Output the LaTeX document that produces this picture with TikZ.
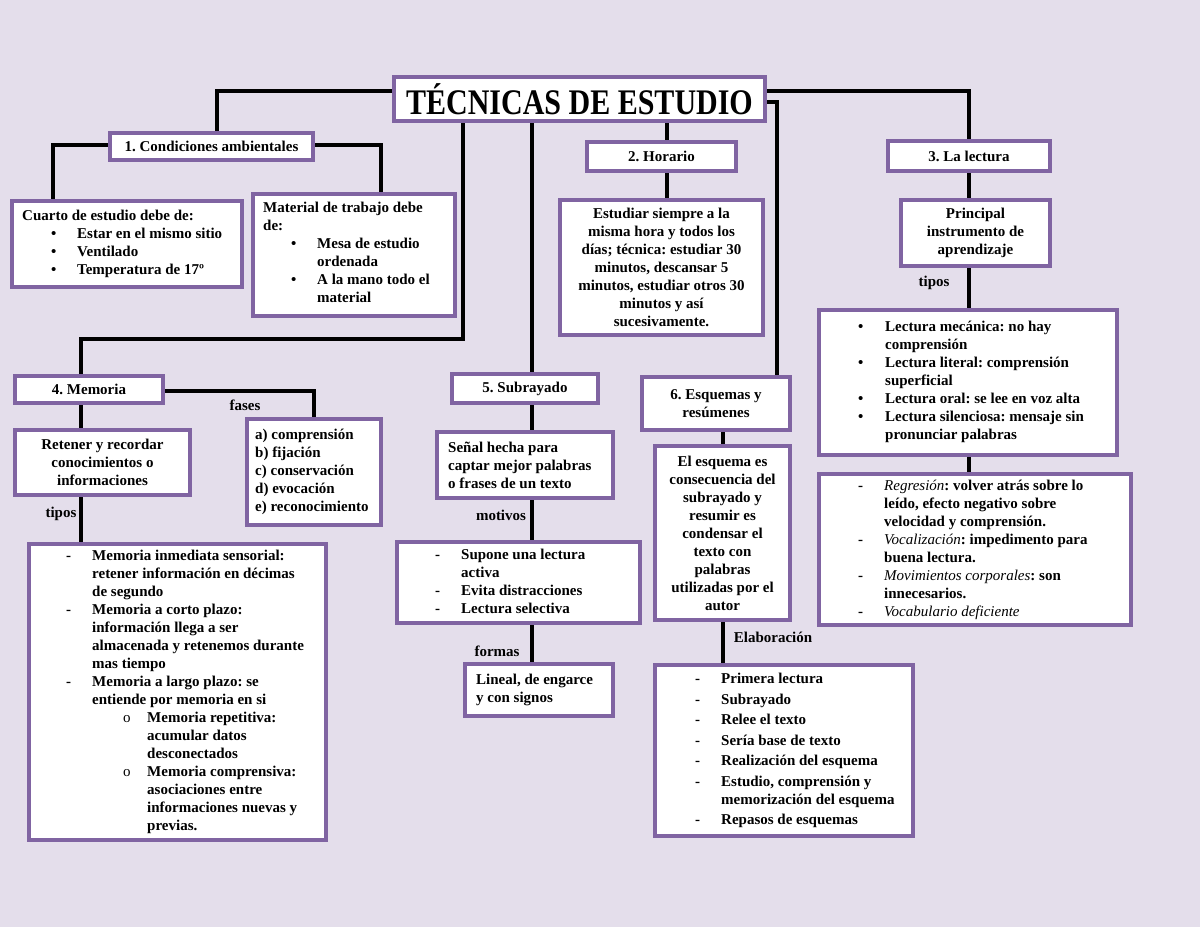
\documentclass[tikz,border=0pt]{standalone}
\usepackage{fontspec}
\setmainfont{Liberation Serif}
\frenchspacing
\definecolor{bgc}{HTML}{E4DEEB}
\definecolor{boxc}{HTML}{8064A2}
\newcommand\bodyfont{\bfseries\fontsize{15}{18}\selectfont\frenchspacing}
\newcommand\Bul[2]{\hspace*{#1pt}\makebox[#2pt][l]{•}}
\newcommand\Das[2]{\strut\hspace*{#1pt}\makebox[#2pt][l]{-}}
\newcommand\Cir[2]{\hspace*{#1pt}\makebox[#2pt][l]{\mdseries o}}
\newcommand\Ind[1]{\strut\hspace*{#1pt}}
\newcommand\It[1]{{\mdseries\itshape #1}}
\newcommand\mybox[6]{\node[box,minimum width={#4-#2-4},minimum height={#5-#3-4}] (#1) at ({(#2+#4)/2},{(#3+#5)/2}) {#6};}
\pgfdeclarelayer{back}
\pgfdeclarelayer{lines}
\pgfsetlayers{back,lines,main}
\begin{document}
\begin{tikzpicture}[x=1pt,y=-1pt,
  box/.style={draw=boxc,line width=4pt,fill=white,inner sep=0pt,align=center,font=\bodyfont},
  txt/.style={inner sep=0pt,align=left,anchor=west,font=\bodyfont},
  lbl/.style={inner sep=0pt,font=\bodyfont},
  conn/.style={draw=black,line width=4.5pt,line join=miter}]
\useasboundingbox (0,0) rectangle (1200,927);
\begin{pgfonlayer}{back}
\fill[bgc] (0,0) rectangle (1200,927);
\end{pgfonlayer}

% boxes
\node[box,font=\bfseries\fontsize{30}{36}\selectfont,minimum width={767-392-4},minimum height={122-74-4}] (title) at ({(392+767)/2},{(74+122)/2+1}) {\scalebox{1}[1.2]{TÉCNICAS DE ESTUDIO}};
\mybox{c1}{108}{131}{315}{162}{1. Condiciones ambientales}
\mybox{cuarto}{10}{199}{244}{289}{}
\mybox{material}{251}{192}{457}{318}{}
\mybox{horario}{585}{140}{738}{173}{2. Horario}
\mybox{horTxt}{558}{198}{765}{337}{Estudiar siempre a la\\misma hora y todos los\\días; técnica: estudiar 30\\minutos, descansar 5\\minutos, estudiar otros 30\\minutos y así\\sucesivamente.}
\mybox{lect}{886}{139}{1052}{173}{3. La lectura}
\mybox{princ}{899}{198}{1052}{268}{Principal\\instrumento de\\aprendizaje}
\mybox{ltipos}{817}{308}{1119}{457}{}
\mybox{regr}{817}{472}{1133}{627}{}
\mybox{mem}{13}{374}{165}{405}{4. Memoria}
\mybox{fases}{245}{417}{383}{527}{}
\mybox{reten}{13}{428}{192}{497}{Retener y recordar\\conocimientos o\\informaciones}
\mybox{mtipos}{27}{542}{328}{842}{}
\mybox{sub}{450}{372}{600}{405}{5. Subrayado}
\mybox{senal}{435}{430}{615}{500}{}
\mybox{motiv}{395}{540}{642}{625}{}
\mybox{formas}{463}{662}{615}{718}{}
\mybox{esq}{640}{375}{792}{432}{6. Esquemas y\\resúmenes}
\mybox{esqTxt}{653}{444}{792}{622}{El esquema es\\consecuencia del\\subrayado y\\resumir es\\condensar el\\texto con\\palabras\\utilizadas por el\\autor}
\mybox{elab}{653}{663}{915}{838}{}

% left-aligned texts
\node[txt] (cuartoT) at ([xshift=12pt]cuarto.west) {Cuarto de estudio debe de:\\
\Bul{29}{26}Estar en el mismo sitio\\
\Bul{29}{26}Ventilado\\
\Bul{29}{26}Temperatura de 17º};
\node[txt] (materialT) at ([xshift=12pt]material.west) {Material de trabajo debe\\de:\\
\Bul{28}{26}Mesa de estudio\\
\Ind{54}ordenada\\
\Bul{28}{26}A la mano todo el\\
\Ind{54}material};
\node[txt] (ltiposT) at ([xshift=41pt]ltipos.west) {\Bul{0}{27}Lectura mecánica: no hay\\
\Ind{27}comprensión\\
\Bul{0}{27}Lectura literal: comprensión\\
\Ind{27}superficial\\
\Bul{0}{27}Lectura oral: se lee en voz alta\\
\Bul{0}{27}Lectura silenciosa: mensaje sin\\
\Ind{27}pronunciar palabras};
\node[txt] (regrT) at ([xshift=41pt]regr.west) {\Das{0}{26}\It{Regresión}: volver atrás sobre lo\\
\Ind{26}leído, efecto negativo sobre\\
\Ind{26}velocidad y comprensión.\\
\Das{0}{26}\It{Vocalización}: impedimento para\\
\Ind{26}buena lectura.\\
\Das{0}{26}\It{Movimientos corporales}: son\\
\Ind{26}innecesarios.\\
\Das{0}{26}\It{Vocabulario deficiente}};
\node[txt] (fasesT) at ([xshift=10pt]fases.west) {a) comprensión\\
b) fijación\\
c) conservación\\
d) evocación\\
e) reconocimiento};
\node[txt] (mtiposT) at ([xshift=39pt]mtipos.west) {\Das{0}{26}Memoria inmediata sensorial:\\
\Ind{26}retener información en décimas\\
\Ind{26}de segundo\\
\Das{0}{26}Memoria a corto plazo:\\
\Ind{26}información llega a ser\\
\Ind{26}almacenada y retenemos durante\\
\Ind{26}mas tiempo\\
\Das{0}{26}Memoria a largo plazo: se\\
\Ind{26}entiende por memoria en si\\
\Cir{57}{24}Memoria repetitiva:\\
\Ind{81}acumular datos\\
\Ind{81}desconectados\\
\Cir{57}{24}Memoria comprensiva:\\
\Ind{81}asociaciones entre\\
\Ind{81}informaciones nuevas y\\
\Ind{81}previas.};
\node[txt] (senalT) at ([xshift=13pt]senal.west) {Señal hecha para\\captar mejor palabras\\o frases de un texto};
\node[txt] (motivT) at ([xshift=40pt]motiv.west) {\Das{0}{26}Supone una lectura\\
\Ind{26}activa\\
\Das{0}{26}Evita distracciones\\
\Das{0}{26}Lectura selectiva};
\node[txt] (formasT) at ([xshift=13pt]formas.west) {Lineal, de engarce\\y con signos};
\node[txt] (elabT) at ([xshift=42pt]elab.west) {\Das{0}{26}Primera lectura\\[2.5pt]
\Das{0}{26}Subrayado\\[2.5pt]
\Das{0}{26}Relee el texto\\[2.5pt]
\Das{0}{26}Sería base de texto\\[2.5pt]
\Das{0}{26}Realización del esquema\\[2.5pt]
\Das{0}{26}Estudio, comprensión y\\
\Ind{26}memorización del esquema\\[2.5pt]
\Das{0}{26}Repasos de esquemas};

% labels
\node[lbl] (lt1) at (934,283) {tipos};
\node[lbl] (lfa) at (245,405) {fases};
\node[lbl] (lt2) at (61,514) {tipos};
\node[lbl] (lmo) at (501,515) {motivos};
\node[lbl] (lfo) at (497,651) {formas};
\node[lbl] (lel) at (773,637) {Elaboración};

% connector coordinates
\coordinate (tA) at ([xshift=-116.5pt]title.south);
\coordinate (tB) at ([xshift=-47.5pt]title.south);
\coordinate (tC) at ([xshift=87.5pt]title.south);
\coordinate (c1X) at ([xshift=5.5pt]c1.north);
\coordinate (cuX) at ([xshift=-74pt]cuarto.north);
\coordinate (maX) at ([xshift=27pt]material.north);
\coordinate (tE) at ([xshift=61pt]esq.north);
\coordinate (eX) at ([xshift=7pt]esq.south);
\coordinate (mX) at ([xshift=-8pt]mem.north);

\begin{pgfonlayer}{lines}
\draw[conn] ([yshift=8pt]title.west) -| (c1X);
\draw[conn] ([yshift=1.5pt]c1.west) -| (cuX);
\draw[conn] ([yshift=1.5pt]c1.east) -| (maX);
\draw[conn] (tA) -- ++(0,216) -| (mX);
\draw[conn] (mX |- mem.south) -- (mX |- reten.north);
\draw[conn] (mX |- reten.south) -- (mX |- mtipos.north);
\draw[conn] ([yshift=-1.5pt]mem.east) -| (fases.north);
\draw[conn] (tB) -- (tB |- sub.north);
\draw[conn] (tB |- sub.south) -- (tB |- senal.north);
\draw[conn] (tB |- senal.south) -- (tB |- motiv.north);
\draw[conn] (tB |- motiv.south) -- (tB |- formas.north);
\draw[conn] (tC) -- (tC |- horario.north);
\draw[conn] (tC |- horario.south) -- (tC |- horTxt.north);
\draw[conn] ([yshift=8pt]title.east) -| (lect.north);
\draw[conn] (lect.south) -- (lect.south |- princ.north);
\draw[conn] (lect.south |- princ.south) -- (lect.south |- ltipos.north);
\draw[conn] (lect.south |- ltipos.south) -- (lect.south |- regr.north);
\draw[conn] ([yshift=-3pt]title.east) -| (tE);
\draw[conn] (eX) -- (eX |- esqTxt.north);
\draw[conn] (eX |- esqTxt.south) -- (eX |- elab.north);
\end{pgfonlayer}
\end{tikzpicture}
\end{document}
